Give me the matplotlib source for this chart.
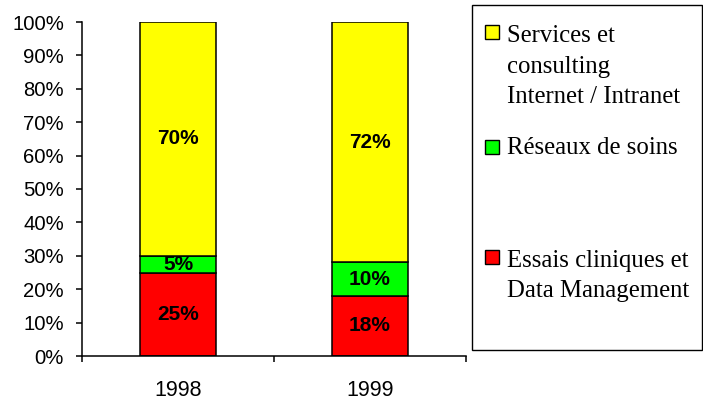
import numpy as np
import matplotlib.pyplot as plt
from matplotlib.patches import Rectangle

# data
years = ["1998", "1999"]
essais = [0.25, 0.18]
reseaux = [0.05, 0.10]
services = [0.70, 0.72]

series = [essais, reseaux, services]
colors = ["#FF0000", "#00FF00", "#FFFF00"]
legend_lines = [["Services et", "consulting", "Internet / Intranet"],
                ["Réseaux de soins"],
                ["Essais cliniques et", "Data Management"]]
legend_colors = ["#FFFF00", "#00FF00", "#FF0000"]

W, H = 703, 400
fig = plt.figure(figsize=(W / 100, H / 100), dpi=100)
ax = fig.add_axes([82 / W, 44 / H, (466 - 82) / W, (356 - 22) / H])

x = np.arange(len(years))
bottom = np.zeros(len(years))
for vals, c in zip(series, colors):
    vals = np.array(vals)
    ax.bar(x, vals, width=0.4, bottom=bottom, color=c, edgecolor="black", linewidth=1.1)
    for xi, b, v in zip(x, bottom, vals):
        ax.text(xi, b + v / 2, f"{round(v * 100):d}%", ha="center", va="center",
                fontsize=15, fontweight="bold", family="Liberation Sans")
    bottom += vals

ax.set_xlim(-0.5, 1.5)
ax.set_ylim(0, 1)
ax.set_yticks(np.arange(0, 1.01, 0.1))
ax.set_yticklabels([f"{int(round(t * 100))}%" for t in np.arange(0, 1.01, 0.1)])
ax.set_xticks(x)
ax.set_xticklabels(years)
ax.set_xticks([-0.5, 0.5, 1.5], minor=True)
ax.tick_params(axis="x", which="major", length=0, pad=17, labelsize=15.5)
ax.tick_params(axis="x", which="minor", length=4, width=1.1, direction="out")
ax.tick_params(axis="y", length=4, width=1.1, direction="out", pad=9, labelsize=14.6)
for lab in ax.get_xticklabels() + ax.get_yticklabels():
    lab.set_family("Liberation Sans")
for s in ["top", "right"]:
    ax.spines[s].set_visible(False)
for s in ["left", "bottom"]:
    ax.spines[s].set_linewidth(1.1)

# legend box drawn by hand
fig.patches.append(Rectangle((472 / W, (H - 350) / H), (702 - 472) / W, (350 - 5) / H,
                             transform=fig.transFigure, fill=False, edgecolor="black",
                             linewidth=1.0))
marker_y = [32, 147, 257]
first_base = [42, 154, 267]
for lines, c, my, fb in zip(legend_lines, legend_colors, marker_y, first_base):
    fig.patches.append(Rectangle((485 / W, (H - my - 7) / H), 14 / W, 14 / H,
                                 transform=fig.transFigure, facecolor=c,
                                 edgecolor="black", linewidth=1.0))
    for i, line in enumerate(lines):
        fig.text(507 / W, (H - fb - i * 30.5) / H, line, ha="left", va="baseline",
                 fontsize=17.8, family="Liberation Serif")

fig.savefig("out.png", dpi=100)
